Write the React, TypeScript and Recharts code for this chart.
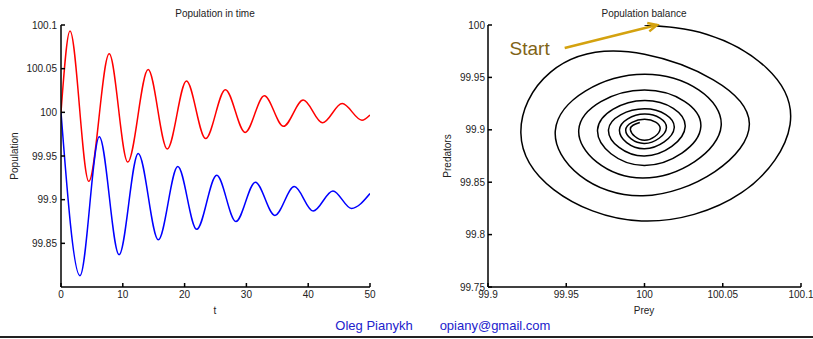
import { LineChart, Line, XAxis, YAxis, ReferenceLine } from 'recharts';

// time series (extrema + ends)
const tPrey = [0, 1.46, 4.5, 7.8, 10.8, 14.1, 17.2, 20.3, 23.4, 26.6, 29.8, 32.9, 36.0, 39.2, 42.3, 45.5, 48.7, 50];
const preyValues = [100.0, 100.093, 99.921, 100.067, 99.943, 100.049, 99.958, 100.036, 99.97, 100.026, 99.977, 100.019, 99.984, 100.014, 99.988, 100.01, 99.991, 99.997];
const tPred = [0, 3.07, 6.2, 9.4, 12.5, 15.75, 18.9, 21.95, 25.2, 28.3, 31.45, 34.6, 37.75, 40.8, 44.0, 47.0, 50];
const predValues = [100.0, 99.813, 99.972, 99.837, 99.953, 99.854, 99.938, 99.866, 99.928, 99.875, 99.92, 99.882, 99.915, 99.887, 99.91, 99.89, 99.907];

// phase portrait (outer turn read densely, inner turns at right, bottom, left, top)
const phasePrey = [
  100.0, 100.04, 100.078, 100.093, 100.062, 99.998, 99.942, 99.921, 99.94, 100.0,
  100.067, 99.999, 99.943, 100.0, 100.049, 99.999, 99.958,
  100.0, 100.036, 100.0, 99.97, 100.0, 100.026, 100.0, 99.977, 100.0, 100.019, 100.0, 99.984,
  100.0, 100.014, 100.0, 99.988, 100.0, 100.01, 100.0, 99.991, 99.997,
];
const phasePred = [
  100.0, 99.991, 99.959, 99.905, 99.84, 99.813, 99.843, 99.897, 99.955, 99.972,
  99.906, 99.837, 99.899, 99.953, 99.904, 99.854, 99.9,
  99.938, 99.903, 99.866, 99.9, 99.928, 99.903, 99.875, 99.9, 99.92, 99.902, 99.882, 99.9,
  99.915, 99.902, 99.887, 99.9, 99.91, 99.901, 99.89, 99.9, 99.907,
];

const timeTicks = [0, 10, 20, 30, 40, 50];
const popTicks = [99.85, 99.9, 99.95, 100, 100.05, 100.1];
const preyTicks = [99.9, 99.95, 100, 100.05, 100.1];
const predTicks = [99.75, 99.8, 99.85, 99.9, 99.95, 100];

const preyData = tPrey.map((t, i) => ({ t, v: preyValues[i] }));
const predData = tPred.map((t, i) => ({ t, v: predValues[i] }));
const phaseData = phasePrey.map((x, i) => ({ prey: x, pred: phasePred[i] }));

const FONT = '"Liberation Sans", Arial, sans-serif';
const tickStyle = { fontSize: 10, fill: '#222', fontFamily: FONT };
const fmt = (v: number) => String(Number(v.toFixed(2)));

const label = (text: string, x: number, y: number, size = 10, rotate = false, color = '#222') => (
  <div
    style={{
      position: 'absolute', left: x, top: y, fontSize: size, color, fontFamily: FONT,
      whiteSpace: 'nowrap', transform: `translate(-50%, -50%)${rotate ? ' rotate(-90deg)' : ''}`,
    }}
  >
    {text}
  </div>
);

// arrow with "Start" annotation
const StartArrow = (props: any) => {
  const { x1, y1, x2, y2 } = props;
  const a = Math.atan2(y2 - y1, x2 - x1);
  const L = 10;
  const h1 = [x2 - L * Math.cos(a - 0.45), y2 - L * Math.sin(a - 0.45)];
  const h2 = [x2 - L * Math.cos(a + 0.45), y2 - L * Math.sin(a + 0.45)];
  return (
    <g>
      <line x1={x1} y1={y1} x2={x2} y2={y2} stroke="#d4a20f" strokeWidth={2.5} />
      <polyline points={`${h1[0]},${h1[1]} ${x2},${y2} ${h2[0]},${h2[1]}`} fill="none" stroke="#d4a20f" strokeWidth={2.5} />
      <text x={x1 - 15} y={y1} textAnchor="end" dominantBaseline="central" fontSize={19} fill="#7f6416" fontFamily={FONT}>
        Start
      </text>
    </g>
  );
};

export default function App() {
  return (
    <div style={{ position: 'absolute', left: 0, top: 0, width: 813, height: 339, background: '#fff', overflow: 'hidden' }}>
      <div style={{ position: 'absolute', left: 0, top: 0 }}>
        <LineChart width={400} height={339} margin={{ top: 25, right: 30, bottom: 22, left: 0 }}>
          <XAxis dataKey="t" type="number" domain={[0, 50]} ticks={timeTicks} allowDataOverflow
            stroke="#000" strokeWidth={1.5} tickSize={-4} tickMargin={8} tick={tickStyle} height={30} />
          <XAxis xAxisId="top" orientation="top" type="number" domain={[0, 50]} ticks={timeTicks}
            stroke="#000" tickSize={-4} tick={false} height={0} />
          <YAxis type="number" domain={[99.8, 100.1]} ticks={popTicks} allowDataOverflow tickFormatter={fmt}
            stroke="#000" strokeWidth={1.5} tickSize={-4} tickMargin={8} tick={tickStyle} width={61} />
          <YAxis yAxisId="right" orientation="right" type="number" domain={[99.8, 100.1]} ticks={popTicks}
            stroke="#000" tickSize={-4} tick={false} width={0} />
          <Line data={preyData} dataKey="v" type="monotone" stroke="#ff0000" strokeWidth={1.5} dot={false} isAnimationActive={false} />
          <Line data={predData} dataKey="v" type="monotone" stroke="#0000ff" strokeWidth={1.5} dot={false} isAnimationActive={false} />
        </LineChart>
      </div>
      <div style={{ position: 'absolute', left: 427, top: 0 }}>
        <LineChart width={386} height={339} data={phaseData} margin={{ top: 25, right: 12, bottom: 22, left: 0 }}>
          <XAxis dataKey="prey" type="number" domain={[99.9, 100.1]} ticks={preyTicks} allowDataOverflow tickFormatter={fmt}
            stroke="#000" strokeWidth={1.5} tickSize={-4} tickMargin={8} tick={tickStyle} height={30} />
          <XAxis xAxisId="top" orientation="top" type="number" domain={[99.9, 100.1]} ticks={preyTicks}
            stroke="#000" tickSize={-4} tick={false} height={0} />
          <YAxis type="number" domain={[99.75, 100]} ticks={predTicks} allowDataOverflow tickFormatter={fmt}
            stroke="#000" strokeWidth={1.5} tickSize={-4} tickMargin={7} tick={tickStyle} width={61} />
          <YAxis yAxisId="right" orientation="right" type="number" domain={[99.75, 100]} ticks={predTicks}
            stroke="#000" tickSize={-4} tick={false} width={0} />
          <Line dataKey="pred" type="natural" stroke="#000" strokeWidth={1.5} dot={false} isAnimationActive={false} />
          <ReferenceLine segment={[{ x: 99.949, y: 99.978 }, { x: 100.008, y: 100.0 }]} ifOverflow="visible" shape={StartArrow} />
        </LineChart>
      </div>
      {label('Population in time', 215, 12.5)}
      {label('t', 215, 310)}
      {label('Population', 14, 156, 10, true)}
      {label('Population balance', 644, 13)}
      {label('Prey', 644, 310)}
      {label('Predators', 447, 156, 10, true)}
      {label('Oleg Pianykh', 374, 325, 13, false, '#2222cc')}
      {label('opiany@gmail.com', 495, 325, 13, false, '#2222cc')}
      <div style={{ position: 'absolute', left: 0, top: 336, width: 813, height: 2, background: '#222' }} />
    </div>
  );
}
